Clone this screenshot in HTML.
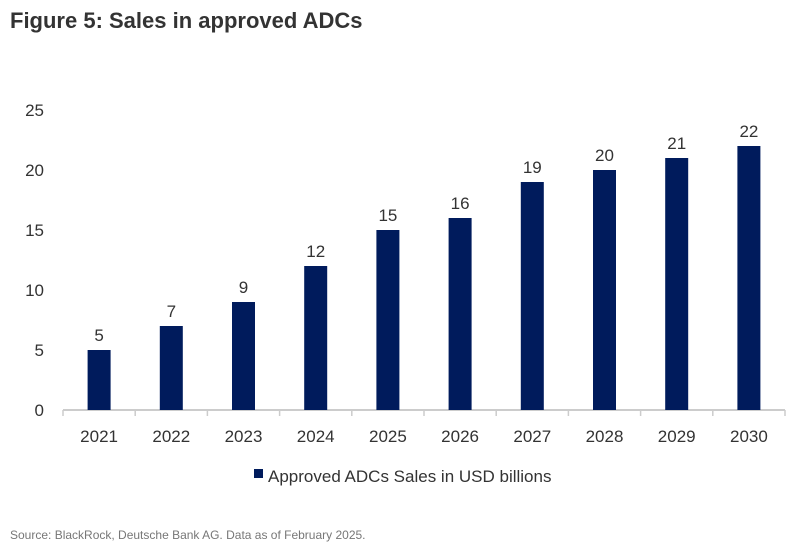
<!DOCTYPE html>
<html><head><meta charset="utf-8"><style>
body{margin:0;background:#fff;font-family:"Liberation Sans",sans-serif;}
#wrap{position:relative;width:789px;height:547px;overflow:hidden;}
</style></head><body>
<div id="wrap">
<svg id="chart" width="789" height="547">
<text x="10" y="28" font-size="22" font-weight="bold" fill="#333">Figure 5: Sales in approved ADCs</text>
<g id="plot"></g>
<rect x="254" y="469" width="9" height="9" fill="#001b5c"/>
<text x="268" y="482" font-size="17" fill="#333">Approved ADCs Sales in USD billions</text>
<text x="10" y="539" font-size="12" fill="#777">Source: BlackRock, Deutsche Bank AG. Data as of February 2025.</text>
</svg>
</div>
<script>
const categories=["2021","2022","2023","2024","2025","2026","2027","2028","2029","2030"];
const values=[5,7,9,12,15,16,19,20,21,22];
const yTicks=[0,5,10,15,20,25];
const NS="http://www.w3.org/2000/svg";
const g=document.getElementById("plot");
const x0=63,x1=785,y0=410,pxPer=12.0;
const bw=(x1-x0)/categories.length;
function y(v){return y0-v*pxPer;}
function xc(i){return x0+bw*(i+0.5);}
function mk(t,a){const e=document.createElementNS(NS,t);for(const k in a)e.setAttribute(k,a[k]);g.appendChild(e);return e;}
yTicks.forEach(t=>{
const e=mk("text",{x:44,y:y(t)+6,"text-anchor":"end","font-size":17,fill:"#333"});
e.textContent=t;


});
const ax=mk("line",{x1:x0,x2:x1,y1:y0,y2:y0,stroke:"#ccc","stroke-width":2});


for(let i=0;i<=categories.length;i++){
const tk=mk("line",{x1:x0+bw*i,x2:x0+bw*i,y1:y0,y2:y0+6,stroke:"#ccc","stroke-width":1.5});


}
categories.forEach((c,i)=>{
const v=values[i];
const r=mk("rect",{x:xc(i)-11.5,y:y(v),width:23,height:y0-y(v),fill:"#001b5c"});


const l=mk("text",{x:xc(i),y:y(v)-9,"text-anchor":"middle","font-size":17,fill:"#333"});
l.textContent=v;


const xl=mk("text",{x:xc(i),y:442,"text-anchor":"middle","font-size":17,fill:"#333"});
xl.textContent=c;


});
</script>
</body></html>
